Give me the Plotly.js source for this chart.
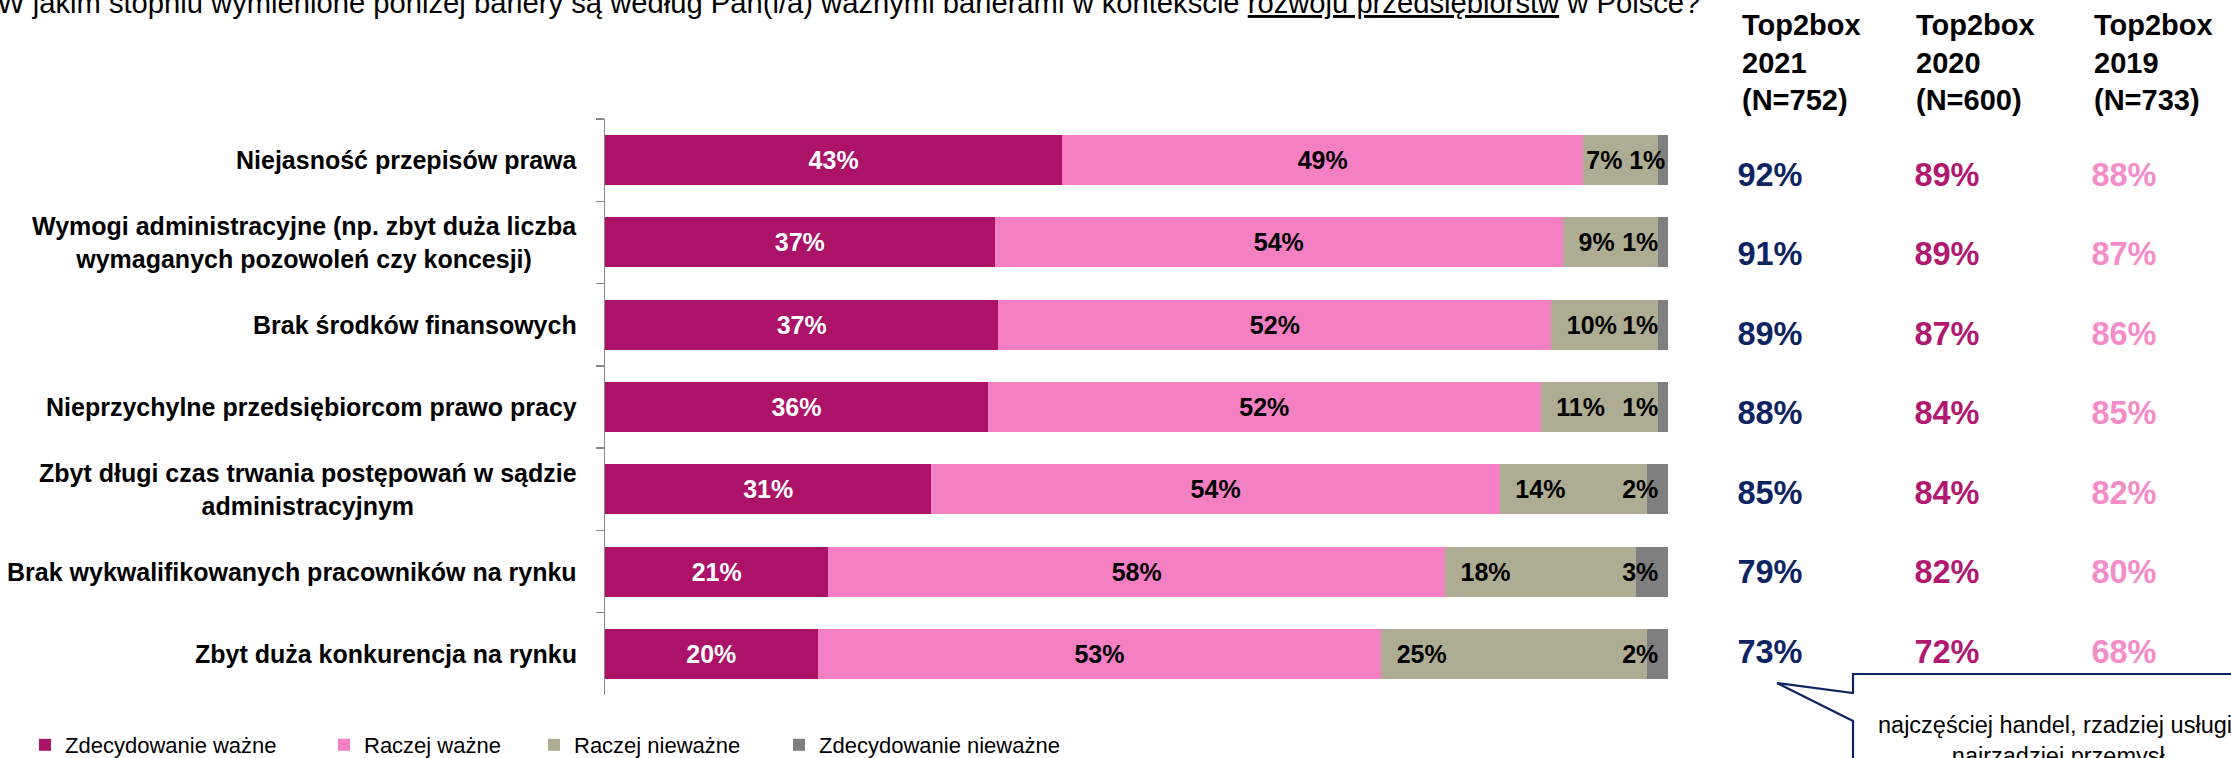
<!DOCTYPE html>
<html>
<head>
<meta charset="utf-8">
<script src="https://cdn.plot.ly/plotly-3.0.1.min.js"></script>
<style>
html,body{margin:0;padding:0;background:#fff;width:2231px;height:758px;overflow:hidden;}
#chart{width:2231px;height:772px;}
</style>
</head>
<body>
<div id="chart"></div>
<script>
// ---------- DATA ----------
const categories = [
  'Niejasność przepisów prawa',
  'Wymogi administracyjne (np. zbyt duża liczba<br>wymaganych pozowoleń czy koncesji)',
  'Brak środków finansowych',
  'Nieprzychylne przedsiębiorcom prawo pracy',
  'Zbyt długi czas trwania postępowań w sądzie<br>administracyjnym',
  'Brak wykwalifikowanych pracowników na rynku',
  'Zbyt duża konkurencja na rynku'
];
const seriesNames = ['Zdecydowanie ważne', 'Raczej ważne', 'Raczej nieważne', 'Zdecydowanie nieważne'];
const zdecydowanieWazne    = [43, 37, 37, 36, 31, 21, 20];
const raczejWazne          = [49, 54, 52, 52, 54, 58, 53];
const raczejNiewazne       = [7, 9, 10, 11, 14, 18, 25];
const zdecydowanieNiewazne = [1, 1, 1, 1, 2, 3, 2];

const yearLabels  = ['2021', '2020', '2019'];
const sampleSizes = ['(N=752)', '(N=600)', '(N=733)'];
const top2box2021 = [92, 91, 89, 88, 85, 79, 73];
const top2box2020 = [89, 89, 87, 84, 84, 82, 72];
const top2box2019 = [88, 87, 86, 85, 82, 80, 68];

const titleText = 'W jakim stopniu wymienione poniżej bariery są według Pan(i/a) ważnymi barierami w kontekście <u>rozwoju przedsiębiorstw</u> w Polsce?';
const calloutText = 'najczęściej handel, rzadziej usługi,<br>najrzadziej przemysł';

// ---------- STYLE ----------
// the figure is a little taller than the 758px window; the bottom strip is cut off like in the reference
const W = 2231, H = 772;
const px = x => x / W;
const py = y => 1 - y / H;
const FONT = 'Liberation Sans, Arial, sans-serif';
const barColors = ['#AB1268', '#F47FC3', '#AEAC93', '#7F7F7F'];
const barTextColors = ['#FFFFFF', '#000000', '#000000', '#000000'];
const yearColors = ['#0E2462', '#B0196F', '#F48CC8'];

const seriesData = [zdecydowanieWazne, raczejWazne, raczejNiewazne, zdecydowanieNiewazne];
const anchors = ['middle', 'middle', 'start', 'end'];
// label padding as in the reference (the first row's small labels sit tighter)
const oliveTemplates = ['%{text}', '\u2002%{text}', '\u2002%{text}', '\u2002%{text}', '\u2002%{text}', '\u2002%{text}', '\u2002%{text}'];
const greyTemplates  = ['%{text}', '%{text}\u00a0', '%{text}\u00a0', '%{text}\u00a0', '%{text}\u00a0', '%{text}\u00a0', '%{text}\u00a0'];
const templates = ['%{text}', '%{text}', oliveTemplates, greyTemplates];
const legendIds = ['legend', 'legend2', 'legend3', 'legend4'];

const traces = seriesData.map((vals, i) => ({
  type: 'bar',
  orientation: 'h',
  name: seriesNames[i],
  y: categories,
  x: vals,
  text: vals.map(v => v + '%'),
  texttemplate: templates[i],
  textposition: 'inside',
  insidetextanchor: anchors[i],
  constraintext: 'none',
  textangle: 0,
  insidetextfont: {family: FONT, size: 25, color: barTextColors[i], weight: 700},
  marker: {color: barColors[i], line: {width: 0}},
  legend: legendIds[i],
  hoverinfo: 'skip',
  xaxis: 'x', yaxis: 'y'
}));

const yearData = [top2box2021, top2box2020, top2box2019];
yearData.forEach((vals, i) => {
  traces.push({
    type: 'scatter',
    mode: 'text',
    x: categories.map(() => yearLabels[i]),
    y: categories,
    text: vals.map(v => v + '%'),
    textposition: 'middle center',
    textfont: {family: FONT, size: 32.5, color: yearColors[i], weight: 700},
    cliponaxis: false,
    showlegend: false,
    hoverinfo: 'skip',
    xaxis: 'x2', yaxis: 'y2'
  });
});

const annotations = [];
// title (cut at the top as in the reference)
annotations.push({
  xref: 'paper', yref: 'paper', x: px(-5), y: py(3),
  xanchor: 'left', yanchor: 'middle', showarrow: false,
  text: titleText, font: {family: FONT, size: 29.2, color: '#000000'}
});
// category labels
categories.forEach(c => {
  annotations.push({
    xref: 'paper', yref: 'y', x: px(579), y: c,
    xanchor: 'right', yanchor: 'middle', align: 'center', showarrow: false,
    text: c, font: {family: FONT, size: 25, color: '#000000', weight: 700}
  });
});
// table headers
const headerX = [1740, 1914, 2092];
yearLabels.forEach((yl, i) => {
  annotations.push({
    xref: 'paper', yref: 'paper', x: px(headerX[i]), y: py(63),
    xanchor: 'left', yanchor: 'middle', align: 'left', showarrow: false,
    text: 'Top2box<br>' + yl + '<br>' + sampleSizes[i],
    font: {family: FONT, size: 29, color: '#000000', weight: 700}
  });
});
// callout text
annotations.push({
  xref: 'paper', yref: 'paper', x: px(2058), y: py(740),
  xanchor: 'center', yanchor: 'middle', align: 'center', showarrow: false,
  text: calloutText, font: {family: FONT, size: 23.5, color: '#000000'}
});

const calloutPath = [
  [1777, 683], [1853, 693], [1853, 674], [2262, 674], [2262, 800], [1853, 800], [1853, 721]
].map((p, k) => (k === 0 ? 'M' : 'L') + px(p[0]).toFixed(5) + ',' + py(p[1]).toFixed(5)).join(' ') + ' Z';

const legendBase = {
  orientation: 'h', xanchor: 'left', yanchor: 'middle', y: py(745),
  font: {family: FONT, size: 22, color: '#000000'},
  bgcolor: 'rgba(0,0,0,0)', borderwidth: 0
};
const legendX = [25, 324, 534, 779];

const layout = {
  width: W, height: H,
  margin: {l: 0, r: 0, t: 0, b: 0, pad: 0},
  paper_bgcolor: '#FFFFFF', plot_bgcolor: 'rgba(0,0,0,0)',
  font: {family: FONT, color: '#000000'},
  barmode: 'stack', barnorm: 'percent', bargap: 0.392,
  showlegend: true,
  xaxis: {domain: [px(605), px(1668.3)], range: [0, 100], visible: false, fixedrange: true},
  yaxis: {
    domain: [py(695), py(119)], type: 'category', autorange: false, range: [6.5, -0.5],
    categoryorder: 'array', categoryarray: categories,
    showticklabels: false, ticks: 'outside', tickson: 'boundaries', ticklen: 8,
    tickcolor: '#888888', tickwidth: 1.5,
    showline: true, linecolor: '#888888', linewidth: 1.5,
    showgrid: false, zeroline: false, fixedrange: true
  },
  xaxis2: {
    domain: [px(1681.5), px(2212.5)], anchor: 'y2', type: 'category',
    categoryorder: 'array', categoryarray: yearLabels, range: [-0.5, 2.5], autorange: false,
    visible: false, fixedrange: true
  },
  yaxis2: {
    domain: [py(695), py(119)], anchor: 'x2', type: 'category', autorange: false,
    range: [6.508, -0.737],
    categoryorder: 'array', categoryarray: categories,
    visible: false, fixedrange: true
  },
  legend:  Object.assign({}, legendBase, {x: px(legendX[0])}),
  legend2: Object.assign({}, legendBase, {x: px(legendX[1])}),
  legend3: Object.assign({}, legendBase, {x: px(legendX[2])}),
  legend4: Object.assign({}, legendBase, {x: px(legendX[3])}),
  annotations: annotations,
  shapes: [{
    type: 'path', xref: 'paper', yref: 'paper', path: calloutPath,
    fillcolor: '#FFFFFF', line: {color: '#0E2462', width: 2.2}, layer: 'below'
  }]
};

Plotly.newPlot('chart', traces, layout, {displayModeBar: false, staticPlot: true});
</script>
</body>
</html>
